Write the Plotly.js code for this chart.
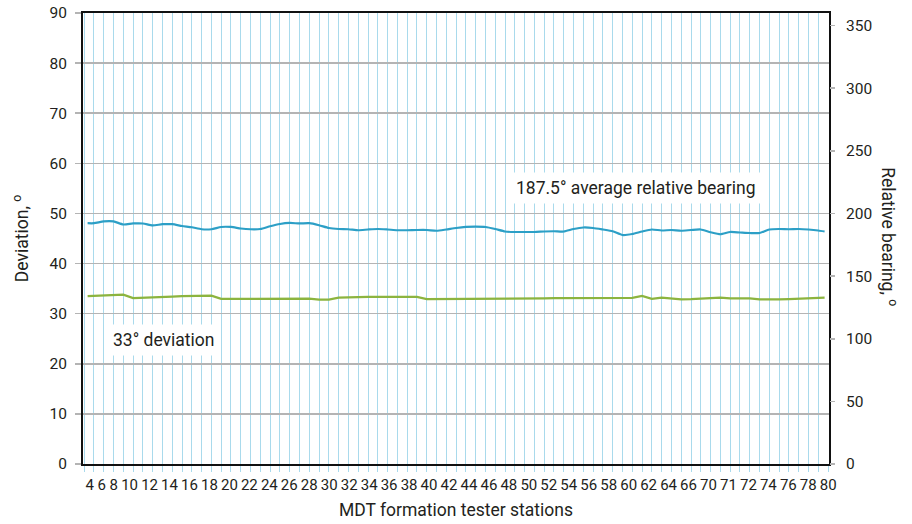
<!DOCTYPE html>
<html>
<head>
<meta charset="utf-8">
<script src="https://cdn.plot.ly/plotly-3.0.1.min.js"></script>
<style>
  html, body { margin: 0; padding: 0; background: #fff; }
  #chart { width: 912px; height: 524px; }
</style>
</head>
<body>
<div id="chart"></div>
<script>
// station labels as printed under the axis
const tickLabels = ['4','6','8','10','12','14','16','18','20','22','24','26','28','30','32','34','36','38',
    '40','42','44','46','48','50','52','54','56','58','60','62','64','66','70','71','72','74','76','78','80'];

// relative bearing, degrees (right axis) - one reading per gridline plus both ends
const bearing = [192.2, 192.2, 193.6, 193.6, 191.2, 192.0, 192.0, 190.4, 191.4, 191.4, 190.0,
    189.0, 187.4, 187.4, 189.2, 189.2, 188.0, 187.4, 187.6, 189.8, 191.6,
    192.4, 192.0, 192.2, 190.6, 188.4, 187.6, 187.4, 186.6, 187.2, 187.6,
    187.2, 186.6, 186.6, 186.8, 186.8, 186.2, 187.2, 188.4, 189.2, 189.4,
    189.2, 187.6, 185.6, 185.2, 185.2, 185.2, 185.6, 185.8, 185.6, 187.6,
    188.8, 188.4, 187.2, 185.8, 182.8, 183.6, 185.6, 187.2, 186.4, 186.8,
    186.2, 186.8, 187.2, 185.0, 183.4, 185.2, 184.8, 184.4, 184.4, 187.2,
    187.6, 187.4, 187.6, 187.2, 186.4, 185.6];

// deviation, degrees (left axis)
const deviation = [33.5, 33.55, 33.6, 33.75, 33.8, 33.1, 33.15, 33.2, 33.3, 33.4, 33.5,
    33.55, 33.6, 33.6, 32.95, 32.95, 32.95, 32.95, 32.95, 33.0, 33.0,
    33.0, 33.0, 33.0, 32.8, 32.8, 33.2, 33.3, 33.3, 33.35, 33.35,
    33.35, 33.35, 33.35, 33.35, 32.9, 32.9, 32.92, 32.95, 32.95, 33.0,
    33.0, 33.0, 33.02, 33.05, 33.05, 33.05, 33.05, 33.1, 33.1, 33.1,
    33.15, 33.15, 33.15, 33.2, 33.15, 33.15, 33.55, 32.95, 33.2, 33.0,
    32.85, 32.9, 32.95, 33.15, 33.2, 33.05, 33.05, 33.05, 32.85, 32.8,
    32.85, 32.9, 32.95, 33.05, 33.1, 33.2];

// x position of each reading: the 75 gridlines plus the two line ends
const stations = [0.35, ...Array.from({length: 75}, (_, i) => i + 1), 75.65];

const xRange = [-0.12, 76.1];

// the labels were set as one run of text; put each at its offset in that run
// (digit = 1 unit, space = 0.5 unit), mapped onto the x axis
let run = 0;
const tickUnits = [];
tickLabels.forEach(t => {
    tickUnits.push(run + t.length / 2);
    run += t.length + 0.5;
});
const runLen = run - 0.5;
const runStart = 0.156, runEnd = 76.84;
const tickPos = tickUnits.map(u => runStart + u * (runEnd - runStart) / runLen);

const font = 'Roboto, Liberation Sans, sans-serif';
const ink = '#231f20';
const gridGray = '#b4b4b4';
const gridBlue = '#a9daec';

const traces = [
    {x: stations, y: bearing, yaxis: 'y2', mode: 'lines', name: 'Relative bearing',
     line: {color: '#2c9fc6', width: 2.2, shape: 'spline', smoothing: 0.6}},
    {x: stations, y: deviation, mode: 'lines', name: 'Deviation',
     line: {color: '#8cb43f', width: 2.2}}
];

const layout = {
    width: 912, height: 524,
    margin: {l: 83, r: 83, t: 13, b: 60},
    paper_bgcolor: '#fff', plot_bgcolor: '#fff',
    showlegend: false,
    font: {family: font, size: 16, color: ink},
    xaxis: {
        range: xRange,
        tickmode: 'array', tickvals: tickPos, ticktext: tickLabels, tickangle: 0,
        showgrid: false, zeroline: false,
        ticks: '', ticklabelstandoff: 6,
        tickfont: {family: font, size: 15, color: ink},
        showline: true, linecolor: '#111', linewidth: 2, mirror: true,
        minor: {tickmode: 'linear', tick0: 1, dtick: 1, showgrid: true,
                gridcolor: gridBlue, gridwidth: 1,
                ticks: 'outside', ticklen: 6, tickcolor: gridBlue, tickwidth: 1},
        title: {text: 'MDT formation tester stations', standoff: 11,
                font: {family: font, size: 17.5, color: ink}}
    },
    yaxis: {
        range: [0, 90], tickmode: 'linear', tick0: 0, dtick: 10,
        showgrid: true, gridcolor: gridGray, gridwidth: 1.6, zeroline: false,
        ticks: 'outside', ticklen: 6, tickcolor: gridGray, tickwidth: 1.6,
        ticklabelstandoff: 5,
        tickfont: {family: font, size: 15.5, color: ink},
        showline: true, linecolor: '#111', linewidth: 2, mirror: true,
        title: {text: 'Deviation, <sup>o</sup>', standoff: 16,
                font: {family: font, size: 17.5, color: ink}}
    },
    yaxis2: {
        overlaying: 'y', side: 'right',
        range: [0, 360], tickmode: 'linear', tick0: 0, dtick: 50,
        showgrid: false, zeroline: false, showline: false,
        ticks: 'outside', ticklen: 5, tickcolor: gridGray, tickwidth: 1.6,
        ticklabelstandoff: 8,
        tickfont: {family: font, size: 15.5, color: ink}
    },
    annotations: [
        {text: 'Relative bearing, <sup>o</sup>', xref: 'paper', yref: 'paper',
         x: 1.081, y: 0.504, textangle: 90, showarrow: false,
         xanchor: 'center', yanchor: 'middle',
         font: {family: font, size: 17.5, color: ink}},
        {text: '187.5° average relative bearing', xref: 'x', yref: 'y',
         x: 56.4, y: 55, showarrow: false, bgcolor: '#fff', borderpad: 5,
         font: {family: font, size: 17.5, color: ink}},
        {text: '33° deviation', xref: 'x', yref: 'y',
         x: 8.1, y: 24.7, showarrow: false, bgcolor: '#fff', borderpad: 5,
         font: {family: font, size: 17.5, color: ink}}
    ]
};

Plotly.newPlot('chart', traces, layout, {staticPlot: true, displayModeBar: false});
</script>
</body>
</html>
